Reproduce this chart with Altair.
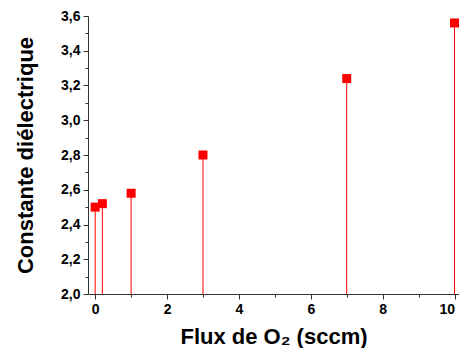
import altair as alt
import pandas as pd

flux = [0, 0.2, 1, 3, 7, 10]
eps = [2.50, 2.52, 2.58, 2.80, 3.24, 3.56]
x_major = [0, 2, 4, 6, 8, 10]
x_minor = [1, 3, 5, 7, 9]
y_major = [2.0, 2.2, 2.4, 2.6, 2.8, 3.0, 3.2, 3.4, 3.6]
y_minor = [2.1, 2.3, 2.5, 2.7, 2.9, 3.1, 3.3, 3.5]

df = pd.DataFrame({"flux": flux, "eps": eps})

FONT = "Liberation Sans"
RED = "#ff0000"
xs = alt.Scale(domain=[-0.2, 10.125], nice=False, zero=False)
ys = alt.Scale(domain=[2.0, 3.6], nice=False, zero=False)
lab = "replace(format(datum.value, '.1f'), '.', ',')"

x_axis = alt.Axis(values=x_major, title="Flux de O₂ (sccm)", grid=False, orient="bottom",
                  tickSize=5, labelPadding=3, titlePadding=10, format="d", labelFlush=6)
y_axis = alt.Axis(values=y_major, labelExpr=lab, title="Constante diélectrique", grid=False,
                  orient="left", tickSize=5, labelPadding=3, titlePadding=23)
x_minor_axis = alt.Axis(values=x_minor, labels=False, domain=False, grid=False, orient="bottom",
                        tickSize=3, title="")
y_minor_axis = alt.Axis(values=y_minor, labels=False, domain=False, grid=False, orient="left",
                        tickSize=3, title="")

stems = alt.Chart(df).mark_rule(color=RED, strokeWidth=1).encode(
    x=alt.X("flux:Q", scale=xs, axis=x_axis),
    y=alt.Y("eps:Q", scale=ys, axis=y_axis),
    y2=alt.datum(2.0),
)
points = alt.Chart(df).mark_point(shape="square", filled=True, size=81, color=RED, opacity=1).encode(
    x=alt.X("flux:Q", scale=xs, axis=x_minor_axis),
    y=alt.Y("eps:Q", scale=ys, axis=y_minor_axis),
)

chart = alt.layer(stems, points).resolve_axis(
    x="independent", y="independent"
).properties(
    width=371, height=278,
    autosize="none",
    padding={"left": 80, "top": 8, "right": 0, "bottom": 54},
).configure_view(stroke=None).configure_axis(
    labelFont=FONT, labelFontWeight="bold", labelFontSize=14, labelColor="#000000",
    titleFont=FONT, titleFontWeight="bold", titleFontSize=22, titleColor="#000000",
    domainColor="#333333", tickColor="#333333", domainWidth=1, tickWidth=1,
)

chart.save("out.html", embed_options={"renderer": "svg", "actions": False})
